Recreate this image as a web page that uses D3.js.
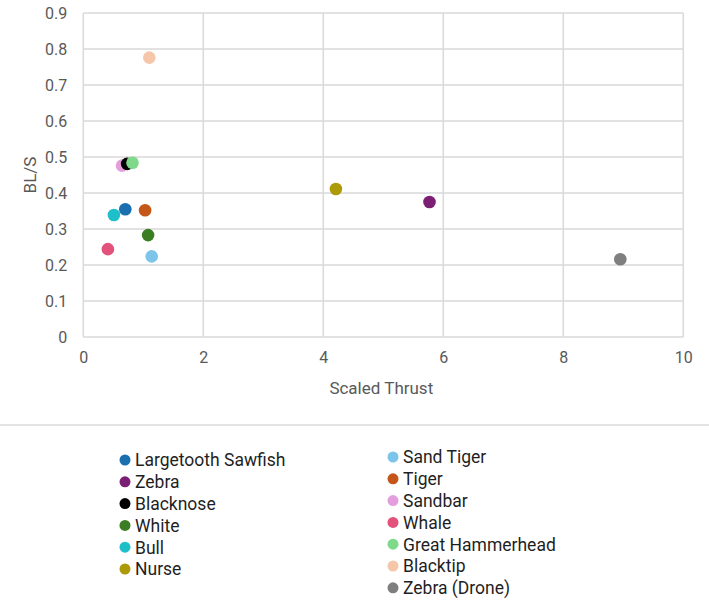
<!DOCTYPE html>
<html>
<head>
<meta charset="utf-8">
<title>Scaled Thrust vs BL/S</title>
<script src="https://cdn.jsdelivr.net/npm/d3@7"></script>
<style>
  body { margin: 0; background: #fff; }
  svg { display: block; }
</style>
</head>
<body>
<div id="chart"></div>
<script>
// species, in legend order
var species = ["Largetooth Sawfish", "Zebra", "Blacknose", "White", "Bull", "Nurse",
               "Sand Tiger", "Tiger", "Sandbar", "Whale", "Great Hammerhead", "Blacktip", "Zebra (Drone)"];
var thrust  = [0.70, 5.77, 0.73, 1.08, 0.51, 4.21, 1.14, 1.03, 0.645, 0.41, 0.82, 1.10, 8.95];
var bls     = [0.355, 0.375, 0.481, 0.283, 0.339, 0.411, 0.224, 0.352, 0.476, 0.244, 0.484, 0.776, 0.216];
var colors  = ["#1A6FAF", "#7B1F74", "#000000", "#3A7D22", "#1FBFCA", "#AD9A08",
               "#7DC4EA", "#C4561A", "#E59EDD", "#E2527A", "#7ED98A", "#F5C6AA", "#7F7F7F"];
var xTicks = [0, 2, 4, 6, 8, 10];
var yTicks = [0, 0.1, 0.2, 0.3, 0.4, 0.5, 0.6, 0.7, 0.8, 0.9];
// drawing order so the overlapping cluster stacks like the original
var drawOrder = [8, 0, 4, 9, 3, 6, 7, 2, 10, 11, 5, 1, 12];

var width = 709, height = 601;
var svg = d3.select("#chart").append("svg")
  .attr("width", width)
  .attr("height", height);

var x = d3.scaleLinear().domain([0, 10]).range([83.3, 683.3]);
var y = d3.scaleLinear().domain([0, 0.9]).range([337, 13]);
var grid = "#D9D9D9", tickColor = "#595959";
var font = "Roboto, 'Open Sans', sans-serif";

// gridlines
svg.append("g").selectAll("line").data(yTicks).enter().append("line")
  .attr("x1", x(0)).attr("x2", x(10))
  .attr("y1", function(d) { return y(d); })
  .attr("y2", function(d) { return y(d); })
  .attr("stroke", grid).attr("stroke-width", 1.5);
svg.append("g").selectAll("line").data(xTicks).enter().append("line")
  .attr("y1", y(0)).attr("y2", y(0.9))
  .attr("x1", function(d) { return x(d); })
  .attr("x2", function(d) { return x(d); })
  .attr("stroke", grid).attr("stroke-width", 1.5);

// axes (labels only, lines are the gridlines)
var xAxis = svg.append("g")
  .attr("transform", "translate(0," + y(0) + ")")
  .call(d3.axisBottom(x).tickValues(xTicks).tickSize(0).tickPadding(15).tickFormat(d3.format("d")));
var yAxis = svg.append("g")
  .attr("transform", "translate(" + x(0) + ",0)")
  .call(d3.axisLeft(y).tickValues(yTicks).tickSize(0).tickPadding(16)
    .tickFormat(function(d) { return d === 0 ? "0" : d3.format(".1f")(d); }));
[xAxis, yAxis].forEach(function(g) {
  g.select(".domain").remove();
  g.selectAll("text").attr("fill", tickColor)
    .style("font-family", font).style("font-size", "16px");
});

svg.append("text")
  .attr("x", x(5) - 2).attr("y", 394)
  .attr("text-anchor", "middle")
  .attr("fill", tickColor)
  .style("font-family", font).style("font-size", "17px")
  .text("Scaled Thrust");
svg.append("text")
  .attr("transform", "translate(36," + y(0.45) + ") rotate(-90)")
  .attr("text-anchor", "middle")
  .attr("fill", tickColor)
  .style("font-family", font).style("font-size", "17px")
  .text("BL/S");

// points
svg.append("g").selectAll("circle").data(drawOrder).enter().append("circle")
  .attr("cx", function(i) { return x(thrust[i]); })
  .attr("cy", function(i) { return y(bls[i]); })
  .attr("r", 6.3)
  .attr("fill", function(i) { return colors[i]; });

// separator above legend
svg.append("line")
  .attr("x1", 0).attr("x2", width)
  .attr("y1", 425).attr("y2", 425)
  .attr("stroke", "#C8C8C8").attr("stroke-width", 1.2);

// legend: two columns
var legendItems = species.map(function(s, i) {
  var col = i < 6 ? 0 : 1;
  var row = col === 0 ? i : i - 6;
  return {
    name: s, color: colors[i],
    cx: col === 0 ? 125 : 393,
    cy: (col === 0 ? 460 : 457) + row * 21.8
  };
});
var leg = svg.append("g").selectAll("g").data(legendItems).enter().append("g");
leg.append("circle")
  .attr("cx", function(d) { return d.cx; })
  .attr("cy", function(d) { return d.cy; })
  .attr("r", 5.5)
  .attr("fill", function(d) { return d.color; });
leg.append("text")
  .attr("x", function(d) { return d.cx + 10; })
  .attr("y", function(d) { return d.cy; })
  .attr("dy", "0.36em")
  .attr("fill", "#1F1F1F")
  .style("font-family", font).style("font-size", "17.5px")
  .text(function(d) { return d.name; });
</script>
</body>
</html>
